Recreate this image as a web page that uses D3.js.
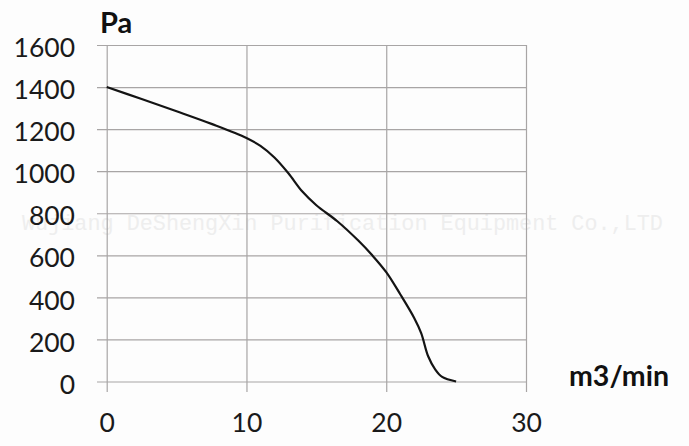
<!DOCTYPE html>
<html>
<head>
<meta charset="utf-8">
<script src="https://cdn.jsdelivr.net/npm/d3@7"></script>
<style>
  html, body { margin: 0; padding: 0; background: #fdfdfd; }
  svg { display: block; }
</style>
</head>
<body>
<svg id="chart" width="689" height="446"></svg>
<script>
const flowValues = [0, 2.5, 5, 7.5, 10, 11, 12, 13, 14, 15, 16.5, 18, 19, 20, 21, 22, 22.5, 23, 23.5, 24, 25];
const pressureValues = [1400, 1343, 1285, 1225, 1158, 1120, 1065, 990, 903, 838, 762, 670, 600, 520, 415, 302, 230, 120, 58, 22, 0];
const xTicks = [0, 10, 20, 30];
const yTicks = [0, 200, 400, 600, 800, 1000, 1200, 1400, 1600];
const yAxisTitle = "Pa";
const xAxisTitle = "m3/min";
const watermark = "Wujiang DeShengXin Purification Equipment Co.,LTD";

(function () {
const svg = d3.select("#chart");
const pLeft = 106.7, pRight = 526, pTop = 45, pBottom = 381.5;
const x = d3.scaleLinear().domain([0, 30]).range([pLeft, pRight]);
const y = d3.scaleLinear().domain([0, 1600]).range([pBottom, pTop]);
const gridColor = "#a8a5a5";
const labelFont = "Lato, 'Open Sans', sans-serif";

// watermark (behind everything)
svg.append("text").attr("x", 22).attr("y", 230)
  .attr("font-family", "'Liberation Mono', 'Courier New', monospace")
  .attr("font-size", 21.8).attr("fill", "#eeeeee")
  .text(watermark);

// horizontal grid + y labels
const yAxis = d3.axisLeft(y).tickValues(yTicks).tickSize(-(pRight - 97)).tickPadding(22).tickFormat(d3.format("d"));
const gy = svg.append("g").attr("transform", "translate(97,0)").call(yAxis);
gy.select(".domain").remove();
gy.selectAll("line").attr("stroke", gridColor).attr("stroke-width", 1.2);
gy.selectAll("text").attr("font-family", labelFont).attr("font-size", 26.5).attr("fill", "#1a1a1a")
  .attr("dy", "0.44em");

// vertical grid + x labels
const xAxis = d3.axisBottom(x).tickValues(xTicks).tickSize(-(392 - pTop)).tickPadding(0).tickFormat(d3.format("d"));
const gx = svg.append("g").attr("transform", "translate(0,392)").call(xAxis);
gx.select(".domain").remove();
gx.selectAll("line").attr("stroke", gridColor).attr("stroke-width", 1.2);
gx.selectAll("text").attr("font-family", labelFont).attr("font-size", 26.5).attr("fill", "#1a1a1a")
  .attr("y", 40).attr("dy", 0);

// curve
const data = flowValues.map((v, i) => [v, pressureValues[i]]);
const line = d3.line().x(d => x(d[0])).y(d => y(d[1])).curve(d3.curveCatmullRom.alpha(0.5));
svg.append("path").datum(data).attr("d", line)
  .attr("fill", "none").attr("stroke", "#141414").attr("stroke-width", 2.2);

// axis titles
svg.append("text").attr("x", 100).attr("y", 33)
  .attr("font-family", labelFont).attr("font-weight", "bold").attr("font-size", 29).attr("fill", "#111")
  .text(yAxisTitle);
svg.append("text").attr("x", 569).attr("y", 386)
  .attr("font-family", labelFont).attr("font-weight", "bold").attr("font-size", 28.5).attr("fill", "#111")
  .text(xAxisTitle);
})();
</script>
</body>
</html>
